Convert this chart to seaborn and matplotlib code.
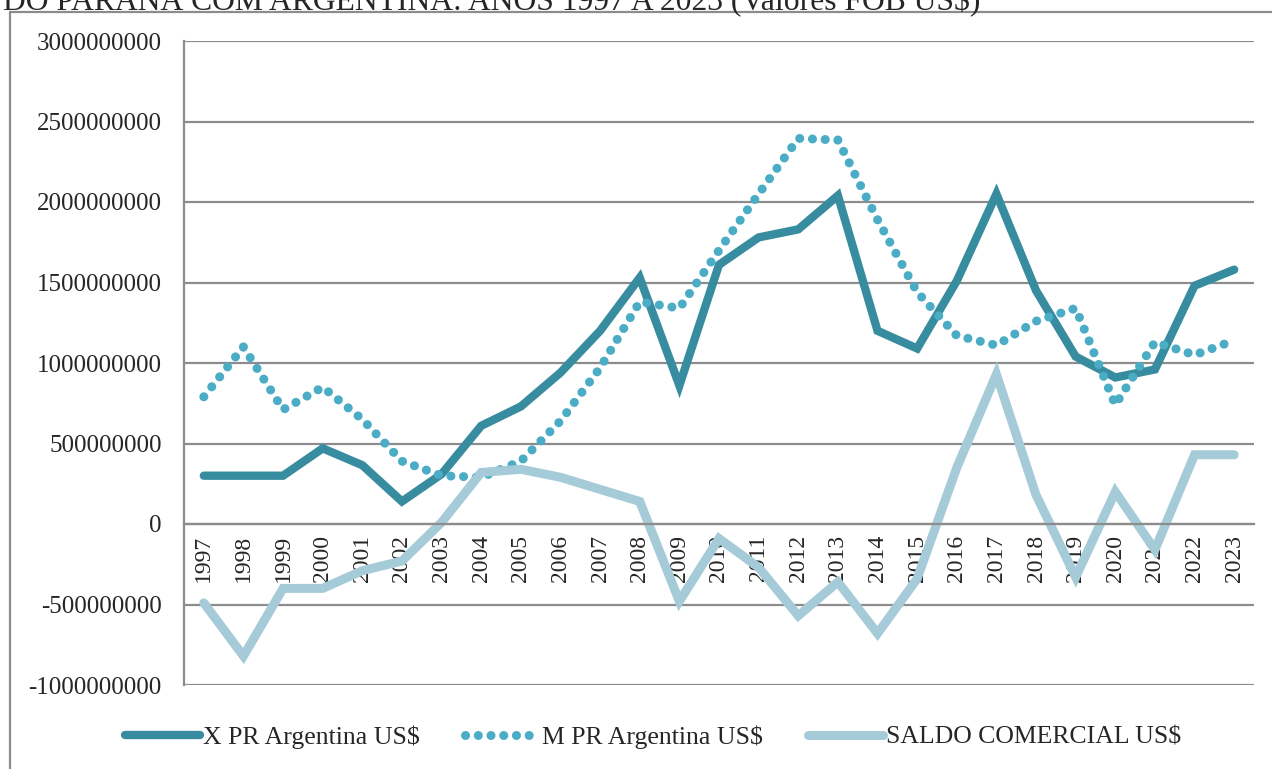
"""
Balança comercial Paraná x Argentina, 1997-2023 (valores FOB US$)
"""
import numpy as np
import pandas as pd
import matplotlib
matplotlib.use('Agg')
import matplotlib.pyplot as plt
from matplotlib.patches import Rectangle
from matplotlib.ticker import FuncFormatter, FixedLocator
import seaborn as sns

# ── dados ────────────────────────────────────────────────────
anos = [str(a) for a in range(1997, 2024)]

exportacoes = [300, 300, 300, 470, 365, 140, 310, 610, 730, 940,
               1200, 1530, 860, 1610, 1780, 1830, 2040, 1200, 1090, 1510,
               2050, 1450, 1040, 910, 960, 1480, 1580]

importacoes = [790, 1100, 710, 850, 650, 390, 300, 290, 390, 640,
               970, 1380, 1340, 1700, 2050, 2395, 2385, 1890, 1440, 1170,
               1110, 1260, 1340, 740, 1130, 1050, 1140]

saldo = [-490, -820, -400, -400, -290, -230, 10, 320, 340, 290,
         215, 140, -480, -90, -270, -570, -360, -680, -340, 350,
         930, 180, -330, 200, -160, 430, 430]

titulo = 'DO PARANÁ COM ARGENTINA: ANOS 1997 A 2023 (Valores FOB US$)'
nomes = ['X PR Argentina US$', 'M PR Argentina US$', 'SALDO COMERCIAL US$']

df = pd.DataFrame({
    'pos': np.arange(len(anos)),
    'x': np.array(exportacoes) * 1e6,
    'm': np.array(importacoes) * 1e6,
    's': np.array(saldo) * 1e6,
})

# ── estilo ───────────────────────────────────────────────────
sns.set_style('white')
plt.rcParams['font.family'] = ['Liberation Serif', 'DejaVu Serif']
plt.rcParams['axes.unicode_minus'] = False

cor_x = '#388C9F'
cor_m = '#4BACC6'
cor_s = '#A6CBD8'
cinza = '#8C8C8C'

fig = plt.figure(figsize=(12.72, 7.69), dpi=100)
ax = fig.add_axes([184 / 1272, 1 - 685 / 769, (1254 - 184) / 1272, (685 - 41) / 769])

sns.lineplot(data=df, x='pos', y='x', ax=ax, color=cor_x, linewidth=6,
             solid_capstyle='round', solid_joinstyle='miter', label=nomes[0])
sns.lineplot(data=df, x='pos', y='m', ax=ax, color=cor_m, linewidth=6.5,
             linestyle=(0, (0.01, 1.4)), dash_capstyle='round', label=nomes[1])
sns.lineplot(data=df, x='pos', y='s', ax=ax, color=cor_s, linewidth=6.5,
             solid_capstyle='round', solid_joinstyle='miter', label=nomes[2])

# ── eixos ────────────────────────────────────────────────────
ax.set_xlim(-0.5, len(anos) - 0.5)
ax.set_ylim(-1e9, 3e9)
ax.set_yticks(np.arange(-1e9, 3.01e9, 5e8))
ax.yaxis.set_major_formatter(FuncFormatter(lambda v, p: f'{int(round(v))}'))
ax.grid(True, axis='y', color=cinza, linewidth=1.6)
ax.set_axisbelow(True)

for s in ['top', 'right']:
    ax.spines[s].set_visible(False)
ax.spines['left'].set_color(cinza)
ax.spines['left'].set_linewidth(1.6)
ax.spines['bottom'].set_position(('data', 0))
ax.spines['bottom'].set_color(cinza)
ax.spines['bottom'].set_linewidth(1.6)

ax.set_xticks(np.arange(len(anos)))
ax.set_xticklabels(anos, rotation=90, va='top', ha='center')
ax.xaxis.set_minor_locator(FixedLocator(np.arange(0.5, len(anos) - 0.4, 1)))
ax.tick_params(axis='x', which='major', length=0, pad=8, labelsize=17)
ax.tick_params(axis='x', which='minor', length=6, width=1.6, color=cinza, direction='out')
ax.tick_params(axis='y', length=4.5, width=1.6, color=cinza, direction='out',
               labelsize=18, pad=11.5)
ax.set_xlabel('')
ax.set_ylabel('')

# ── legenda ──────────────────────────────────────────────────
ax.legend(loc='center', bbox_to_anchor=(653 / 1272, 1 - 737 / 769),
          bbox_transform=fig.transFigure, ncol=3, frameon=False,
          fontsize=18.5, handlelength=2.9, handletextpad=0.12, columnspacing=1.75)

# ── título cortado e moldura ────────────────────────────────
fig.text(0.002, 1 - 10 / 769, titulo, fontsize=22.8, ha='left', va='baseline')
fig.patches.append(Rectangle((10 / 1272, -0.05), 1.2, 1.05 - 12 / 769,
                             transform=fig.transFigure, fill=False,
                             edgecolor=cinza, linewidth=1.6, clip_on=False))

plt.savefig('out.png', dpi=100)
plt.close()
